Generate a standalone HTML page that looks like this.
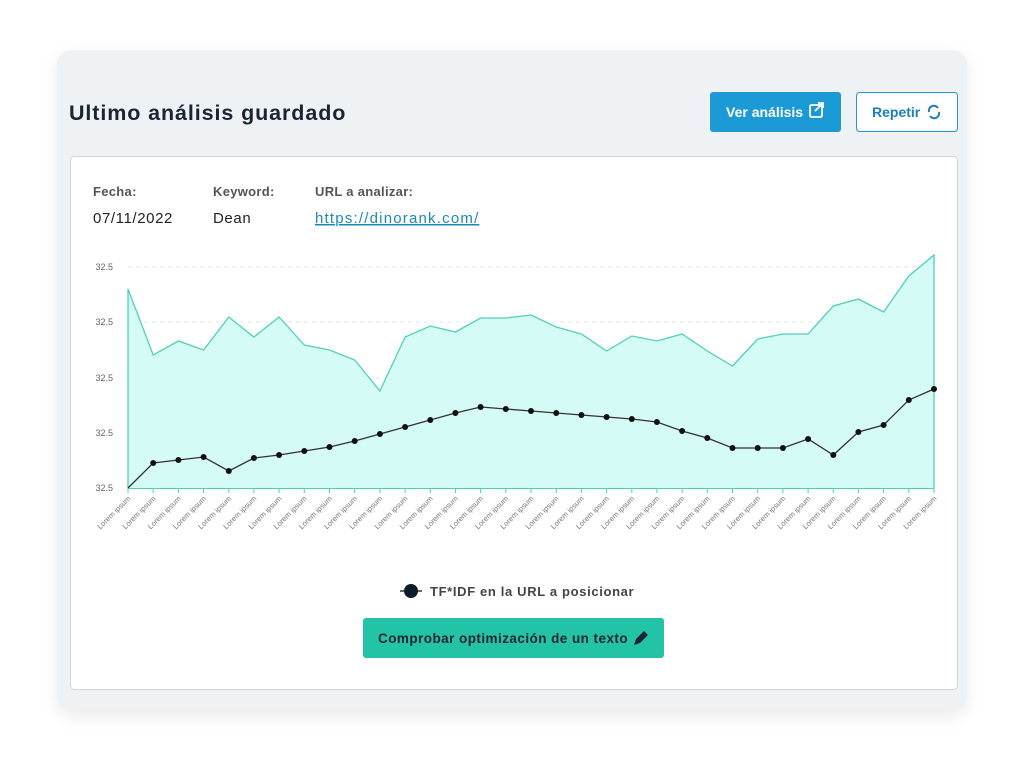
<!DOCTYPE html>
<html><head><meta charset="utf-8"><style>
body{margin:0;width:1024px;height:774px;background:#fff;overflow:hidden;font-family:"Liberation Sans",sans-serif}
</style></head><body>
<svg width="1024" height="774" viewBox="0 0 1024 774" xmlns="http://www.w3.org/2000/svg" font-family="Liberation Sans, sans-serif">
<defs><filter id="sh" x="-10%" y="-10%" width="120%" height="130%"><feDropShadow dx="0" dy="6" stdDeviation="8" flood-color="#000" flood-opacity="0.08"/></filter></defs>
<rect x="57" y="50" width="910" height="660" rx="14" fill="#eff2f5" filter="url(#sh)"/>
<text x="69" y="120" font-size="21.5" font-weight="bold" fill="#1a2433" letter-spacing="0.9">Ultimo análisis guardado</text>
<rect x="710" y="92" width="131" height="40" rx="3" fill="#1b9ad6"/>
<text x="726" y="117" font-size="14" font-weight="bold" fill="#fff">Ver análisis</text>
<rect x="810" y="105" width="12" height="12" rx="1.5" fill="none" stroke="#fff" stroke-width="1.8"/>
<path d="M815 111 L823 103 M818 103 L823 103 L823 108" stroke="#fff" stroke-width="1.8" fill="none"/>
<rect x="856.5" y="92.5" width="101" height="39" rx="3" fill="#fff" stroke="#1b9ad6"/>
<text x="872" y="117" font-size="14" font-weight="bold" fill="#1b7fb8">Repetir</text>
<path d="M929 112 A5 5 0 0 1 938 108 M939 112 A5 5 0 0 1 930 116" stroke="#1b7fb8" stroke-width="2" fill="none"/>
<rect x="70.5" y="156.5" width="887" height="533" rx="4" fill="#fff" stroke="#cfd6de"/>
<text x="93" y="196" font-size="13" font-weight="bold" fill="#555" letter-spacing="0.3">Fecha:</text>
<text x="213" y="196" font-size="13" font-weight="bold" fill="#555" letter-spacing="0.3">Keyword:</text>
<text x="315" y="196" font-size="13" font-weight="bold" fill="#555" letter-spacing="0.3">URL a analizar:</text>
<text x="93" y="223" font-size="15" fill="#222" letter-spacing="0.6">07/11/2022</text>
<text x="213" y="223" font-size="15" fill="#222" letter-spacing="0.6">Dean</text>
<text x="315" y="223" font-size="15" fill="#1b8ab8" text-decoration="underline" letter-spacing="1.2">https://dinorank.com/</text>
<g stroke="#e4e4e4" stroke-dasharray="4 4"><line x1="128" y1="267" x2="934" y2="267"/><line x1="128" y1="322" x2="934" y2="322"/><line x1="128" y1="378" x2="934" y2="378"/><line x1="128" y1="433" x2="934" y2="433"/></g>
<g font-size="9" fill="#666" text-anchor="end"><text x="113" y="270">32.5</text><text x="113" y="325">32.5</text><text x="113" y="381">32.5</text><text x="113" y="436">32.5</text><text x="113" y="491">32.5</text></g>
<polygon fill="#d5fbf6" points="128,488 128,289 153.2,355 178.4,341 203.6,350 228.8,317 253.9,337 279.1,317 304.3,345 329.5,350 354.7,360 379.9,391 405.1,337 430.3,326 455.4,332 480.6,318 505.8,318 531,315 556.2,327 581.4,334 606.6,351 631.8,336 656.9,341 682.1,334 707.3,351 732.5,366 757.7,339 782.9,334 808.1,334 833.3,306 858.4,299 883.6,312 908.8,276 934,255 934,488"/>
<polyline fill="none" stroke="#4fd1b5" stroke-width="1.3" points="128,488 128,289 153.2,355 178.4,341 203.6,350 228.8,317 253.9,337 279.1,317 304.3,345 329.5,350 354.7,360 379.9,391 405.1,337 430.3,326 455.4,332 480.6,318 505.8,318 531,315 556.2,327 581.4,334 606.6,351 631.8,336 656.9,341 682.1,334 707.3,351 732.5,366 757.7,339 782.9,334 808.1,334 833.3,306 858.4,299 883.6,312 908.8,276 934,255 934,488"/>
<line x1="128" y1="488.5" x2="934" y2="488.5" stroke="#4fd1b5"/>
<polyline fill="none" stroke="#333" stroke-width="1.3" points="128,488 153.2,463 178.4,460 203.6,457 228.8,471 253.9,458 279.1,455 304.3,451 329.5,447 354.7,441 379.9,434 405.1,427 430.3,420 455.4,413 480.6,407 505.8,409 531,411 556.2,413 581.4,415 606.6,417 631.8,419 656.9,422 682.1,431 707.3,438 732.5,448 757.7,448 782.9,448 808.1,439 833.3,455 858.4,432 883.6,425 908.8,400 934,389"/>
<g fill="#111"><circle cx="153.2" cy="463" r="3"/><circle cx="178.4" cy="460" r="3"/><circle cx="203.6" cy="457" r="3"/><circle cx="228.8" cy="471" r="3"/><circle cx="253.9" cy="458" r="3"/><circle cx="279.1" cy="455" r="3"/><circle cx="304.3" cy="451" r="3"/><circle cx="329.5" cy="447" r="3"/><circle cx="354.7" cy="441" r="3"/><circle cx="379.9" cy="434" r="3"/><circle cx="405.1" cy="427" r="3"/><circle cx="430.3" cy="420" r="3"/><circle cx="455.4" cy="413" r="3"/><circle cx="480.6" cy="407" r="3"/><circle cx="505.8" cy="409" r="3"/><circle cx="531" cy="411" r="3"/><circle cx="556.2" cy="413" r="3"/><circle cx="581.4" cy="415" r="3"/><circle cx="606.6" cy="417" r="3"/><circle cx="631.8" cy="419" r="3"/><circle cx="656.9" cy="422" r="3"/><circle cx="682.1" cy="431" r="3"/><circle cx="707.3" cy="438" r="3"/><circle cx="732.5" cy="448" r="3"/><circle cx="757.7" cy="448" r="3"/><circle cx="782.9" cy="448" r="3"/><circle cx="808.1" cy="439" r="3"/><circle cx="833.3" cy="455" r="3"/><circle cx="858.4" cy="432" r="3"/><circle cx="883.6" cy="425" r="3"/><circle cx="908.8" cy="400" r="3"/><circle cx="934" cy="389" r="3"/></g>
<g stroke="#4fd1b5"><line x1="128" y1="488" x2="128" y2="493"/><line x1="153.2" y1="488" x2="153.2" y2="493"/><line x1="178.4" y1="488" x2="178.4" y2="493"/><line x1="203.6" y1="488" x2="203.6" y2="493"/><line x1="228.8" y1="488" x2="228.8" y2="493"/><line x1="253.9" y1="488" x2="253.9" y2="493"/><line x1="279.1" y1="488" x2="279.1" y2="493"/><line x1="304.3" y1="488" x2="304.3" y2="493"/><line x1="329.5" y1="488" x2="329.5" y2="493"/><line x1="354.7" y1="488" x2="354.7" y2="493"/><line x1="379.9" y1="488" x2="379.9" y2="493"/><line x1="405.1" y1="488" x2="405.1" y2="493"/><line x1="430.3" y1="488" x2="430.3" y2="493"/><line x1="455.4" y1="488" x2="455.4" y2="493"/><line x1="480.6" y1="488" x2="480.6" y2="493"/><line x1="505.8" y1="488" x2="505.8" y2="493"/><line x1="531" y1="488" x2="531" y2="493"/><line x1="556.2" y1="488" x2="556.2" y2="493"/><line x1="581.4" y1="488" x2="581.4" y2="493"/><line x1="606.6" y1="488" x2="606.6" y2="493"/><line x1="631.8" y1="488" x2="631.8" y2="493"/><line x1="656.9" y1="488" x2="656.9" y2="493"/><line x1="682.1" y1="488" x2="682.1" y2="493"/><line x1="707.3" y1="488" x2="707.3" y2="493"/><line x1="732.5" y1="488" x2="732.5" y2="493"/><line x1="757.7" y1="488" x2="757.7" y2="493"/><line x1="782.9" y1="488" x2="782.9" y2="493"/><line x1="808.1" y1="488" x2="808.1" y2="493"/><line x1="833.3" y1="488" x2="833.3" y2="493"/><line x1="858.4" y1="488" x2="858.4" y2="493"/><line x1="883.6" y1="488" x2="883.6" y2="493"/><line x1="908.8" y1="488" x2="908.8" y2="493"/><line x1="934" y1="488" x2="934" y2="493"/></g>
<g font-size="7.5" fill="#777" text-anchor="end">
<text transform="translate(131,499) rotate(-45)">Lorem ipsum</text><text transform="translate(156.2,499) rotate(-45)">Lorem ipsum</text><text transform="translate(181.4,499) rotate(-45)">Lorem ipsum</text><text transform="translate(206.6,499) rotate(-45)">Lorem ipsum</text><text transform="translate(231.8,499) rotate(-45)">Lorem ipsum</text><text transform="translate(256.9,499) rotate(-45)">Lorem ipsum</text><text transform="translate(282.1,499) rotate(-45)">Lorem ipsum</text><text transform="translate(307.3,499) rotate(-45)">Lorem ipsum</text><text transform="translate(332.5,499) rotate(-45)">Lorem ipsum</text><text transform="translate(357.7,499) rotate(-45)">Lorem ipsum</text><text transform="translate(382.9,499) rotate(-45)">Lorem ipsum</text><text transform="translate(408.1,499) rotate(-45)">Lorem ipsum</text><text transform="translate(433.3,499) rotate(-45)">Lorem ipsum</text><text transform="translate(458.4,499) rotate(-45)">Lorem ipsum</text><text transform="translate(483.6,499) rotate(-45)">Lorem ipsum</text><text transform="translate(508.8,499) rotate(-45)">Lorem ipsum</text><text transform="translate(534,499) rotate(-45)">Lorem ipsum</text><text transform="translate(559.2,499) rotate(-45)">Lorem ipsum</text><text transform="translate(584.4,499) rotate(-45)">Lorem ipsum</text><text transform="translate(609.6,499) rotate(-45)">Lorem ipsum</text><text transform="translate(634.8,499) rotate(-45)">Lorem ipsum</text><text transform="translate(659.9,499) rotate(-45)">Lorem ipsum</text><text transform="translate(685.1,499) rotate(-45)">Lorem ipsum</text><text transform="translate(710.3,499) rotate(-45)">Lorem ipsum</text><text transform="translate(735.5,499) rotate(-45)">Lorem ipsum</text><text transform="translate(760.7,499) rotate(-45)">Lorem ipsum</text><text transform="translate(785.9,499) rotate(-45)">Lorem ipsum</text><text transform="translate(811.1,499) rotate(-45)">Lorem ipsum</text><text transform="translate(836.3,499) rotate(-45)">Lorem ipsum</text><text transform="translate(861.4,499) rotate(-45)">Lorem ipsum</text><text transform="translate(886.6,499) rotate(-45)">Lorem ipsum</text><text transform="translate(911.8,499) rotate(-45)">Lorem ipsum</text><text transform="translate(937,499) rotate(-45)">Lorem ipsum</text>
</g>
<line x1="400" y1="591" x2="422" y2="591" stroke="#333" stroke-width="1.5"/>
<circle cx="411" cy="591" r="7" fill="#0d1a2b"/>
<text x="430" y="596" font-size="13" font-weight="bold" fill="#444" letter-spacing="0.65">TF*IDF en la URL a posicionar</text>
<rect x="363" y="618" width="301" height="40" rx="3" fill="#22c3a6"/>
<text x="378" y="643" font-size="13.5" font-weight="bold" fill="#1a2433" letter-spacing="0.45">Comprobar optimización de un texto</text>
<path d="M634 645 L636 639 L644 631 L648 635 L640 643 Z" fill="#1a2433"/>
</svg>
</body></html>
